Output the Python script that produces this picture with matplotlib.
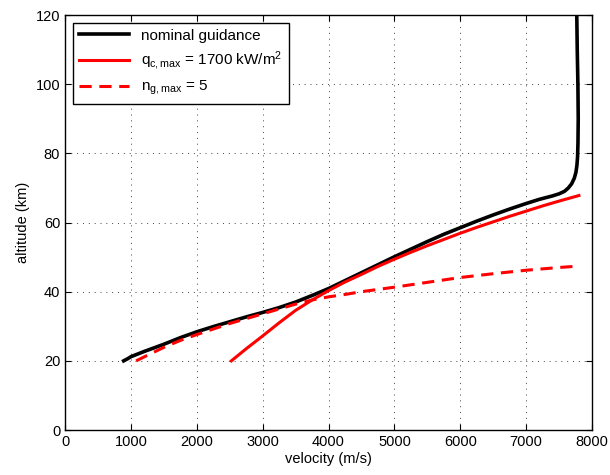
import matplotlib
matplotlib.use('Agg')
import matplotlib.pyplot as plt

plt.rcParams['font.family'] = ['Liberation Sans', 'DejaVu Sans']
plt.rcParams['mathtext.fontset'] = 'custom'
plt.rcParams['mathtext.rm'] = 'Liberation Sans'
plt.rcParams['mathtext.it'] = 'Liberation Sans'

# nominal guidance
nom_v = [890, 950, 1000, 1200, 1500, 1750, 2000, 2250, 2500, 2750, 3000,
         3250, 3500, 3750, 4000, 4250, 4500, 4750, 5000, 5250, 5500, 5750,
         6000, 6250, 6500, 6750, 7000, 7200, 7400, 7500, 7580, 7640, 7690,
         7730, 7755, 7770, 7780, 7786, 7790, 7785, 7775, 7768]
nom_h = [20, 20.6, 21.2, 22.7, 24.8, 26.7, 28.4, 29.9, 31.3, 32.7, 34.0,
         35.4, 37.0, 38.9, 40.9, 43.2, 45.5, 47.8, 50.1, 52.3, 54.5, 56.6,
         58.5, 60.4, 62.2, 63.9, 65.5, 66.7, 67.7, 68.3, 69.0, 70.0, 71.2,
         72.8, 74.5, 76.5, 79.0, 83.0, 90.0, 100.0, 110.0, 120.0]

# heat flux limited
q_v = [2525, 2750, 3000, 3250, 3500, 3750, 4000, 4250, 4500, 4750, 5000,
       5250, 5500, 5750, 6000, 6250, 6500, 6750, 7000, 7250, 7500, 7800]
q_h = [20, 23.5, 27.2, 31.0, 34.6, 37.6, 40.3, 42.8, 45.0, 47.3, 49.4,
       51.4, 53.3, 55.1, 56.9, 58.6, 60.2, 61.8, 63.3, 64.8, 66.2, 67.8]

# load factor limited
n_v = [1080, 1250, 1500, 1750, 2000, 2250, 2500, 2750, 3000, 3250, 3500,
       3750, 4000, 4250, 4500, 5000, 5500, 6000, 6500, 7000, 7500, 7800]
n_h = [20, 21.6, 23.9, 25.9, 27.6, 29.2, 30.8, 32.2, 33.6, 35.0, 36.4,
       37.6, 38.5, 39.2, 40.0, 41.3, 42.7, 44.1, 45.2, 46.2, 47.0, 47.4]

fig = plt.figure(figsize=(6.1, 4.75), dpi=100)
ax = fig.add_axes([0.1066, 0.0947, 0.864, 0.8737])

ax.plot(nom_v, nom_h, color='black', lw=2.6, label='nominal guidance')
ax.plot(q_v, q_h, color='red', lw=2.2,
        label=r'q$_{\mathregular{c,max}}$ = 1700 kW/m$^{\mathregular{2}}$')
ax.plot(n_v, n_h, color='red', lw=2.2, ls='--', dashes=(4, 2.5),
        label=r'n$_{\mathregular{g,max}}$ = 5')

ax.set_xlim(0, 8000)
ax.set_ylim(0, 120)
ax.set_xticks(range(0, 8001, 1000))
ax.set_yticks(range(0, 121, 20))
ax.grid(True, ls=(0, (1, 5)), color='#444444', lw=0.7)
ax.tick_params(direction='in', top=True, right=True, labelsize=10.5, length=4)
for s in ax.spines.values():
    s.set_linewidth(1.0)

ax.set_xlabel('velocity (m/s)', fontsize=10.5, labelpad=2)
ax.set_ylabel('altitude (km)', fontsize=10.5)

leg = ax.legend(loc='upper left', fontsize=11, fancybox=False,
                edgecolor='black', framealpha=1, handlelength=3.3,
                borderaxespad=0.5, labelspacing=0.45)
leg.get_frame().set_linewidth(1.0)

fig.savefig('out.png', dpi=100)
